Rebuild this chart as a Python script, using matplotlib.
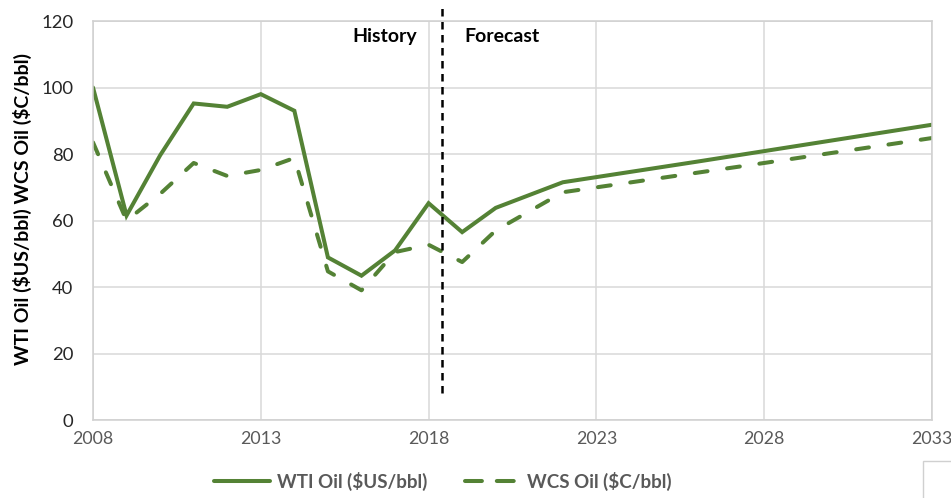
import matplotlib
matplotlib.use("Agg")
import matplotlib.pyplot as plt
from matplotlib.patches import Rectangle
from matplotlib.lines import Line2D

# ---- data ----
wti_years = [2008, 2009, 2010, 2011, 2012, 2013, 2014, 2015, 2016, 2017, 2018, 2019, 2020, 2022, 2026, 2033]
wti_values = [100, 61.5, 79.6, 95.2, 94.2, 98.0, 93.0, 48.9, 43.4, 51.0, 65.2, 56.5, 63.8, 71.5, 77.7, 88.8]
wcs_years = [2008, 2009, 2010, 2011, 2012, 2013, 2014, 2015, 2016, 2017, 2018, 2019, 2020, 2022, 2028, 2033]
wcs_values = [83.5, 60.0, 68.0, 77.3, 73.4, 75.2, 78.8, 44.7, 39.0, 50.5, 52.7, 47.5, 57.0, 68.5, 77.3, 84.8]
x_ticks = [2008, 2013, 2018, 2023, 2028, 2033]
y_ticks = [0, 20, 40, 60, 80, 100, 120]
divider_year = 2018.4
labels = ["WTI Oil (\\$US/bbl)", "WCS Oil (\\$C/bbl)"]
ylabel = "WTI Oil (\\$US/bbl) WCS Oil (\\$C/bbl)"

plt.rcParams['font.family'] = ['Lato', 'DejaVu Sans']

green = "#548235"
W, H = 951, 498
fig = plt.figure(figsize=(W/100, H/100), dpi=100)
ax = fig.add_axes([93/W, 1-420/H, (932-93)/W, (420-21)/H])

ax.plot(wti_years, wti_values, color=green, lw=2.9, solid_capstyle='round', solid_joinstyle='miter')
ax.plot(wcs_years, wcs_values, color=green, lw=2.9, dashes=(3.2, 4.9), dash_capstyle='round')

ax.set_xlim(x_ticks[0], x_ticks[-1])
ax.set_ylim(0, 120)
ax.set_xticks(x_ticks)
ax.set_yticks(y_ticks)
ax.grid(True, color="#d9d9d9", lw=1.1)
ax.set_axisbelow(True)
for s in ax.spines.values():
    s.set_color("#d0d0d0")
    s.set_linewidth(1.1)
ax.tick_params(length=0)
ax.tick_params(axis='x', labelsize=12.8, labelcolor="#595959", pad=8)
ax.tick_params(axis='y', labelsize=13.3, labelcolor="#262626", pad=14)

# history / forecast divider
ax.plot([divider_year, divider_year], [8.1, 124], color="black", lw=1.8, dashes=(3, 2.2), clip_on=False)
ax.text(2016.7, 115.2, "History", ha='center', va='center', fontsize=14, fontweight='bold', color='black')
ax.text(2020.2, 115.2, "Forecast", ha='center', va='center', fontsize=14, fontweight='bold', color='black')

ax.set_ylabel(ylabel, fontsize=14, fontweight='bold', color='black')
ax.yaxis.set_label_coords(-61/839, (420-209)/399)
ax.yaxis.label.set_va('bottom')

# legend
handles = [Line2D([], [], color=green, lw=2.9, solid_capstyle='round'),
           Line2D([], [], color=green, lw=2.9, dashes=(4.2, 3.7), dash_capstyle='round')]
leg = fig.legend(handles, labels, loc='center', bbox_to_anchor=(443/W, 1-481/H), ncol=2, frameon=False,
                 fontsize=13.5, handlelength=3.0, columnspacing=2.0, handletextpad=0.35)
for t in leg.get_texts():
    t.set_color("#595959")
    t.set_fontweight('bold')

# small box bottom-right
fig.patches.append(Rectangle((923/W, -0.05), 0.2, (498-461)/H + 0.05, transform=fig.transFigure,
                             fill=False, edgecolor="#d0d0d0", lw=1.0))

fig.savefig("out.png", dpi=100)
